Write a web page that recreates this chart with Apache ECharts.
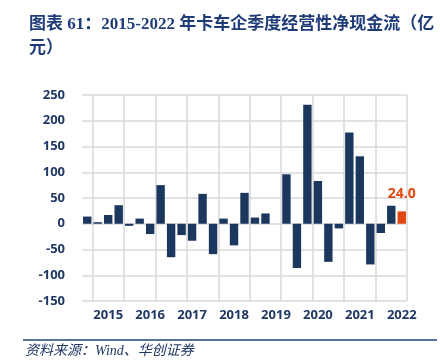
<!DOCTYPE html>
<html>
<head>
<meta charset="utf-8">
<style>
html,body{margin:0;padding:0;background:#fff;}
#chart{width:440px;height:361px;}
</style>
<script src="https://cdn.jsdelivr.net/npm/echarts@6/dist/echarts.min.js"></script>
</head>
<body>
<div id="chart"></div>
<script>
// Quarterly categories (2014Q4 .. 2022Q2)
const categories = ['2014Q4',
  '2015Q1','2015Q2','2015Q3','2015Q4',
  '2016Q1','2016Q2','2016Q3','2016Q4',
  '2017Q1','2017Q2','2017Q3','2017Q4',
  '2018Q1','2018Q2','2018Q3','2018Q4',
  '2019Q1','2019Q2','2019Q3','2019Q4',
  '2020Q1','2020Q2','2020Q3','2020Q4',
  '2021Q1','2021Q2','2021Q3','2021Q4',
  '2022Q1','2022Q2'];
// Operating net cash flow (亿元)
const cashFlow = [14,
  3, 17, 36, -4,
  10, -20, 75, -65,
  -22, -33, 58, -59,
  10, -42, 60, 12,
  20, 0, 96, -86,
  231, 83, -74, -9,
  177, 131, -79, -18,
  35, 24.0];
const yTicks = {min: -150, max: 250, interval: 50};

const navy = '#1b375e';
const orange = '#e2470f';
const textNavy = '#1f3864';

const seriesData = cashFlow.map((v, i) => {
  if (i === cashFlow.length - 1) {
    return {
      value: v,
      itemStyle: {color: orange},
      label: {
        show: true, position: 'top', distance: 10,
        formatter: p => Number(p.value).toFixed(1),
        color: orange, fontSize: 14, fontWeight: 'bold',
        fontFamily: 'Open Sans'
      }
    };
  }
  return v;
});

const chart = echarts.init(document.getElementById('chart'), null, {renderer: 'canvas'});
chart.setOption({
  animation: false,
  backgroundColor: '#ffffff',
  title: {
    text: '图表 61：2015-2022 年卡车企季度经营性净现金流（亿\n元）',
    left: 24, top: 8,
    textStyle: {
      fontFamily: '"Liberation Serif", "Noto Sans CJK SC"',
      fontWeight: 'bold', fontSize: 17, color: '#1f3c78', lineHeight: 24
    }
  },
  graphic: [
    {
      type: 'line', shape: {x1: 23, y1: 340, x2: 437, y2: 340},
      style: {stroke: '#1f4478', lineWidth: 1.5}
    },
    {
      type: 'text', left: 25, top: 344,
      style: {
        text: '资料来源：Wind、华创证券',
        font: 'italic 14px "Liberation Serif", "Noto Sans CJK SC"',
        fill: '#1f3864'
      }
    }
  ],
  grid: {left: 82, top: 95, width: 325, height: 206},
  xAxis: {
    type: 'category',
    data: categories,
    axisLine: {show: false, onZero: false},
    axisTick: {show: false},
    axisLabel: {
      interval: (i) => i % 4 === 2,
      formatter: (v) => v.slice(0, 4),
      color: textNavy, fontSize: 13, fontWeight: 'bold',
      fontFamily: 'Open Sans', margin: 8
    },
    splitLine: {
      show: true,
      interval: (i) => i % 3 === 1,
      lineStyle: {color: '#d9d9d9', width: 1.5}
    }
  },
  yAxis: {
    type: 'value',
    min: yTicks.min, max: yTicks.max, interval: yTicks.interval,
    axisLine: {show: false},
    axisTick: {show: false},
    axisLabel: {
      color: textNavy, fontSize: 13, fontWeight: 'bold',
      fontFamily: 'Open Sans', margin: 17
    },
    splitLine: {lineStyle: {color: '#d9d9d9', width: 1.5}}
  },
  series: [{
    type: 'bar',
    data: seriesData,
    barWidth: '80%',
    itemStyle: {color: navy}
  }]
});
</script>
</body>
</html>
